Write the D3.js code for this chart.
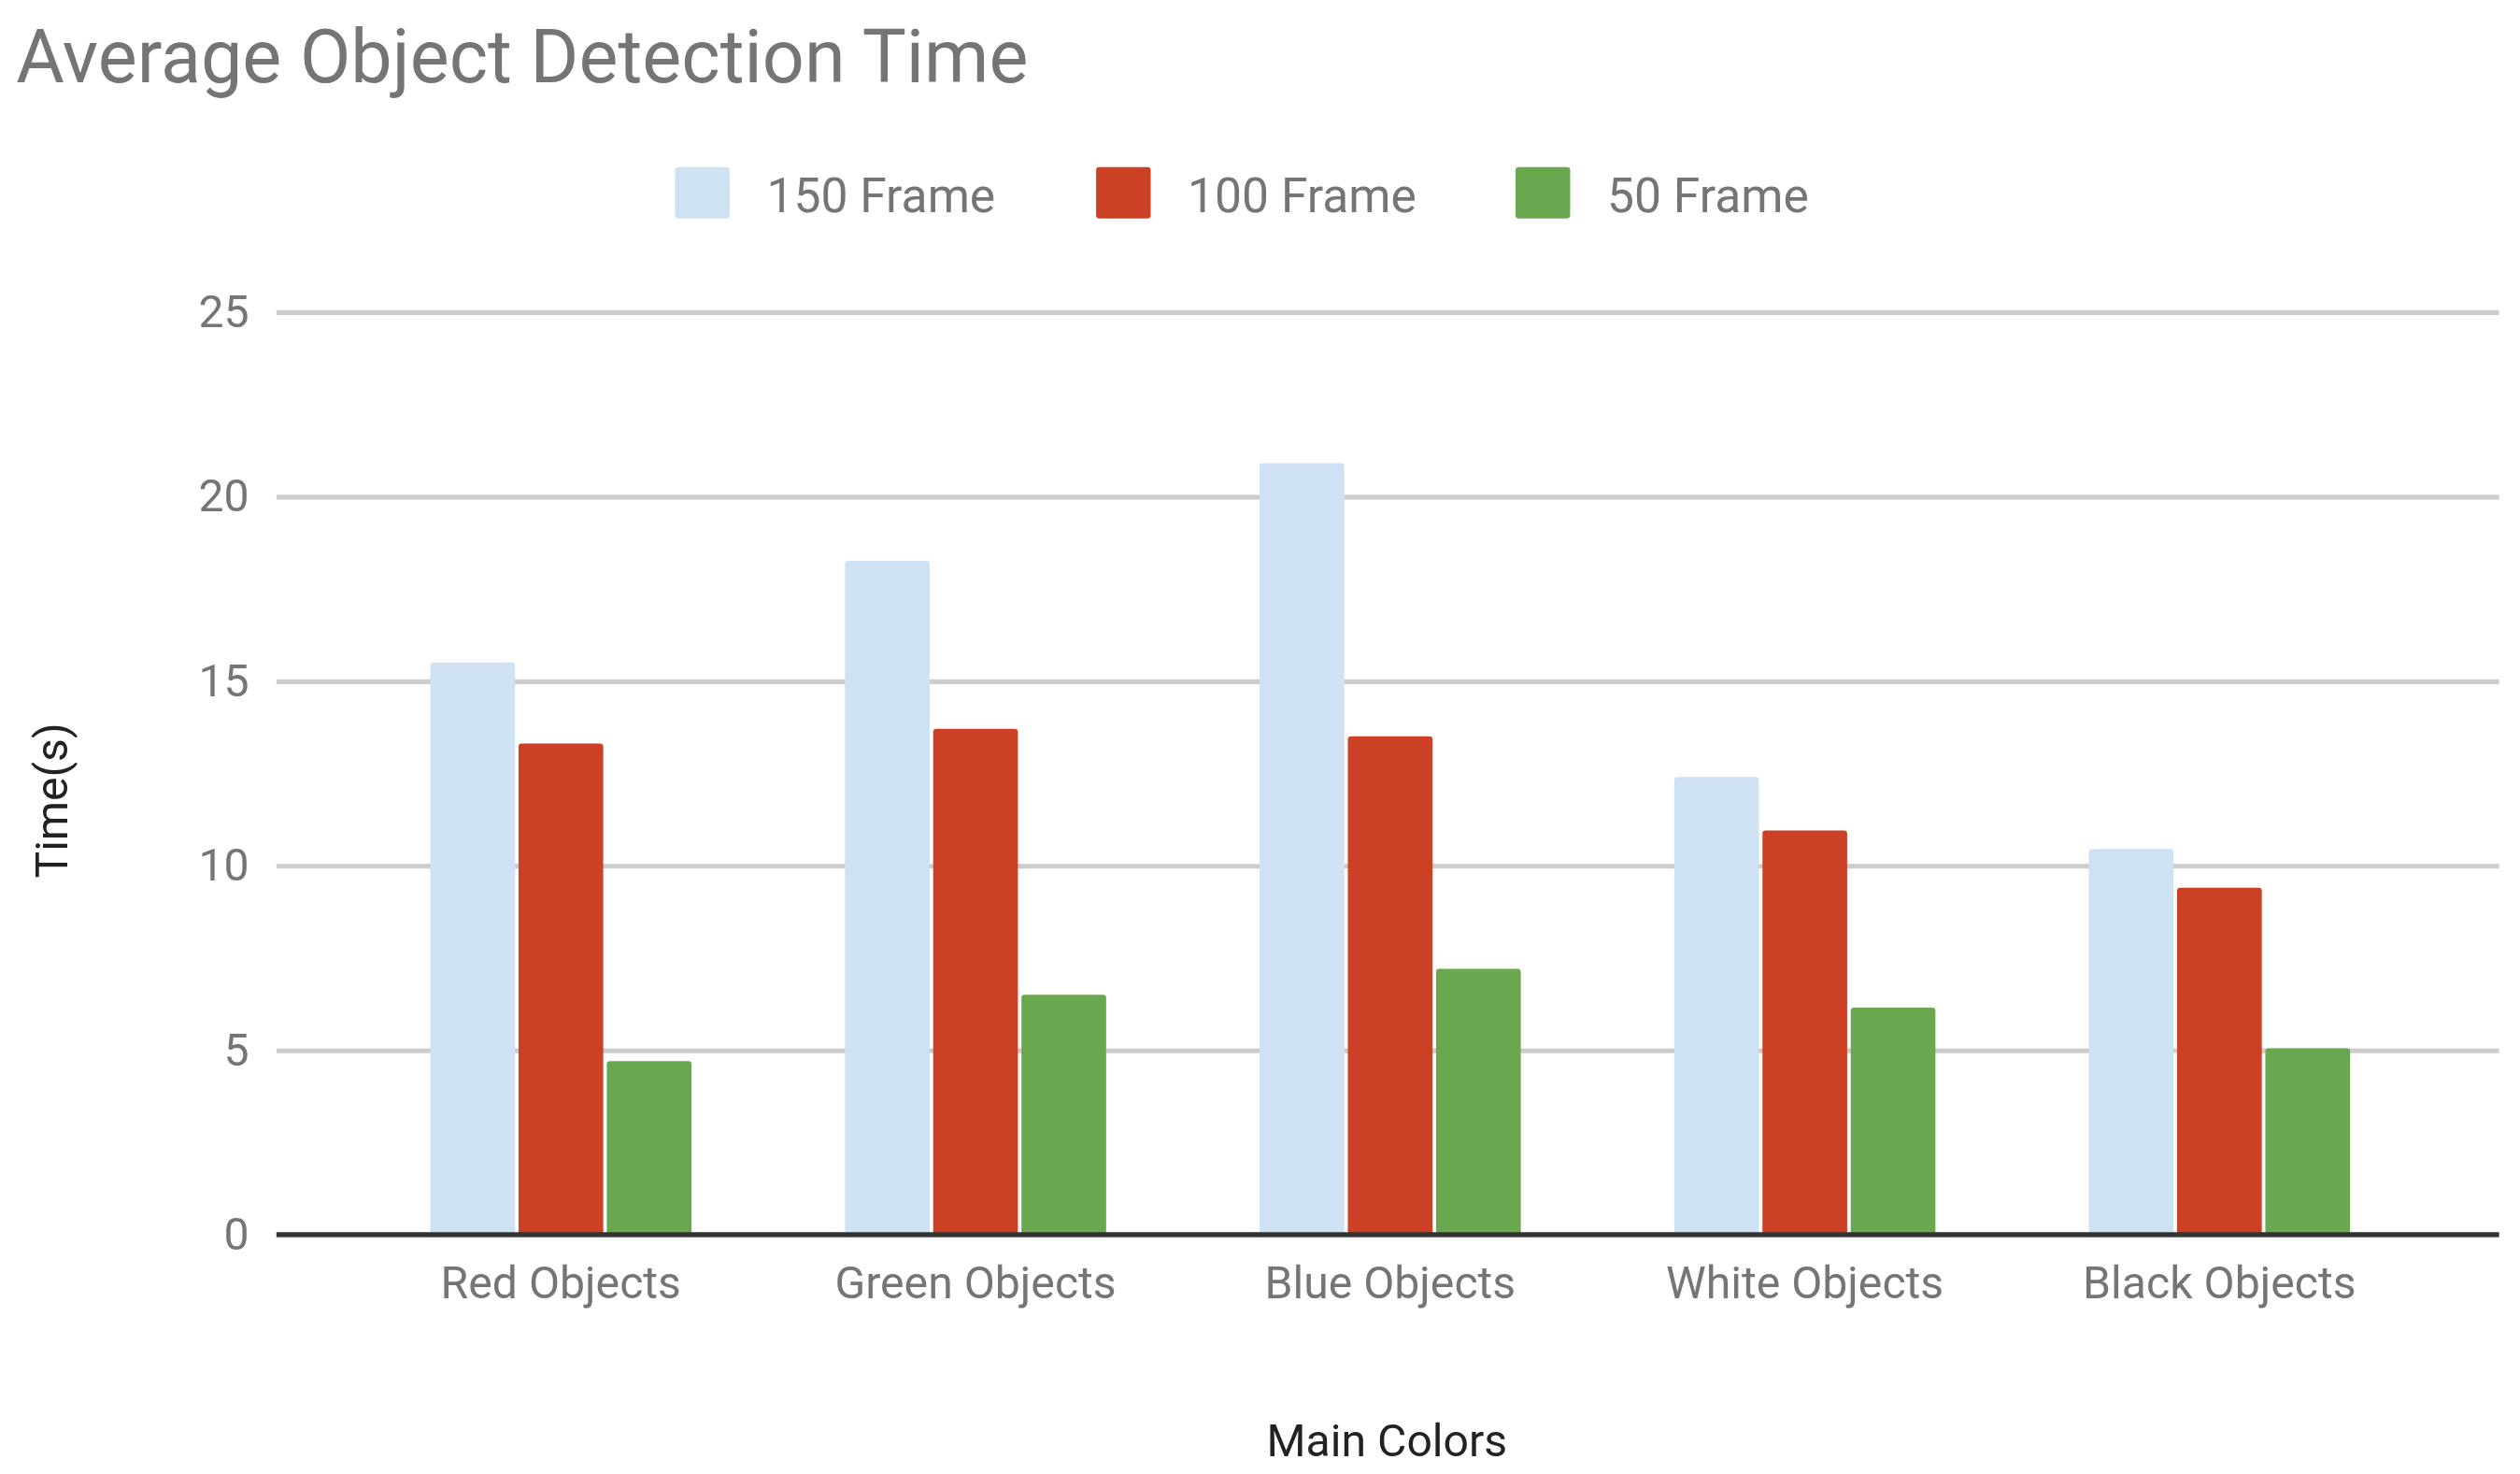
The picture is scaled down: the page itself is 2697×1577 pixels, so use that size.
<!DOCTYPE html>
<html>
<head>
<meta charset="utf-8">
<script src="https://cdn.jsdelivr.net/npm/d3@7"></script>
<style>
  body { margin: 0; background: #fff; }
  text { font-family: Roboto, sans-serif; fill: #757575; }
</style>
</head>
<body>
<div id="chart"></div>
<script>
// data
var categories = ["Red Objects", "Green Objects", "Blue Objects", "White Objects", "Black Objects"];
var seriesNames = ["150 Frame", "100 Frame", "50 Frame"];
var frames150 = [15.5, 18.25, 20.9, 12.4, 10.45];
var frames100 = [13.3, 13.7, 13.5, 10.95, 9.4];
var frames50 = [4.7, 6.5, 7.2, 6.15, 5.05];
var yTicks = [0, 5, 10, 15, 20, 25];
var colors = ["#cfe2f3", "#cc4125", "#6aa84f"];

var allSeries = [frames150, frames100, frames50];

// drawn in a 1568x915 space, scaled up to the window
var svg = d3.select("#chart")
    .append("svg")
    .attr("width", 2697)
    .attr("height", 1577)
    .attr("viewBox", "0 0 1568 915");

var x0 = d3.scaleBand()
    .domain(categories)
    .range([220, 1510])
    .paddingInner(0.37)
    .paddingOuter(0.185);

var x1 = d3.scaleBand()
    .domain(seriesNames)
    .range([0, x0.bandwidth()])
    .paddingInner(0.04);

var y = d3.scaleLinear()
    .domain([0, 25])
    .range([767, 193]);

// title
svg.append("text")
    .attr("x", 10).attr("y", 50)
    .style("font-size", "46px")
    .text("Average Object Detection Time");

// legend
var legendX = [420, 682, 943];
seriesNames.forEach(function (name, i) {
    svg.append("rect")
        .attr("x", legendX[i]).attr("y", 103)
        .attr("width", 34).attr("height", 32)
        .attr("rx", 2)
        .attr("fill", colors[i]);
    svg.append("text")
        .attr("x", legendX[i] + 57).attr("y", 131)
        .style("font-size", "30px")
        .text(name);
});

// gridlines and y labels
var yAxis = d3.axisLeft(y)
    .tickValues(yTicks)
    .tickSize(-(1555 - 172))
    .tickPadding(17);

var yG = svg.append("g")
    .attr("transform", "translate(172,0)")
    .call(yAxis);
yG.select(".domain").remove();
yG.selectAll(".tick line").attr("stroke", "#cccccc").attr("stroke-width", 3);
yG.selectAll(".tick text")
    .style("font-size", "28px")
    .style("font-family", "Roboto, sans-serif")
    .attr("fill", "#757575");

// bars
categories.forEach(function (cat, ci) {
    allSeries.forEach(function (vals, si) {
        svg.append("rect")
            .attr("x", x0(cat) + x1(seriesNames[si]))
            .attr("y", y(vals[ci]))
            .attr("width", x1.bandwidth())
            .attr("height", y(0) - y(vals[ci]))
            .attr("rx", 2)
            .attr("fill", colors[si]);
    });
});

// baseline
svg.append("line")
    .attr("x1", 172).attr("x2", 1555)
    .attr("y1", y(0)).attr("y2", y(0))
    .attr("stroke", "#333").attr("stroke-width", 3);

// x labels
var xAxis = d3.axisBottom(x0).tickSize(0).tickPadding(20);
var xG = svg.append("g")
    .attr("transform", "translate(0," + y(0) + ")")
    .call(xAxis);
xG.select(".domain").remove();
xG.selectAll(".tick text")
    .style("font-size", "28px")
    .style("font-family", "Roboto, sans-serif")
    .attr("fill", "#757575");

// axis titles
svg.append("text")
    .attr("x", 863).attr("y", 905)
    .attr("text-anchor", "middle")
    .style("font-size", "28px")
    .style("fill", "#222")
    .text("Main Colors");

svg.append("text")
    .attr("transform", "translate(42,497) rotate(-90)")
    .attr("text-anchor", "middle")
    .style("font-size", "28px")
    .style("fill", "#222")
    .text("Time(s)");
</script>
</body>
</html>
